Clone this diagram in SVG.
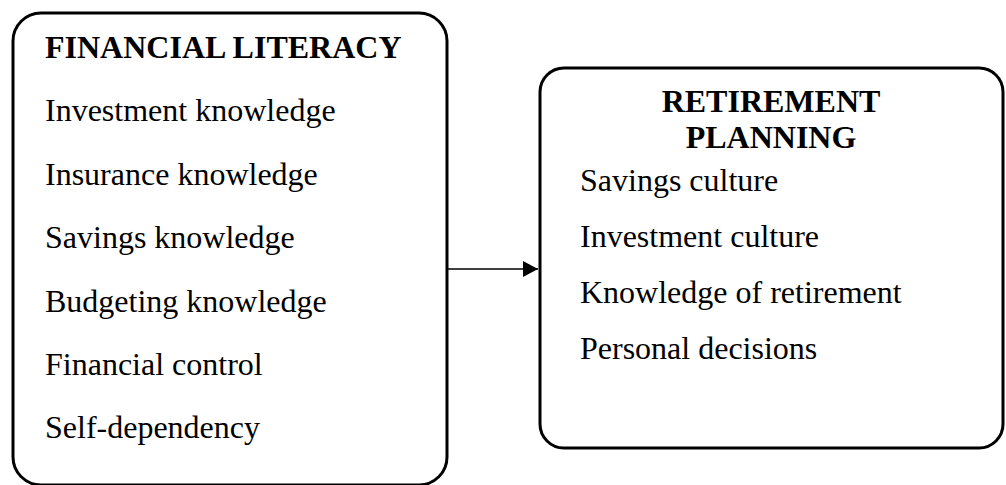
<svg xmlns="http://www.w3.org/2000/svg" width="1006" height="485" viewBox="0 0 1006 485">
  <style>
    .box { fill: #ffffff; stroke: #000000; stroke-width: 3; }
    .title { font-family: "Liberation Serif", "Times New Roman", serif; font-size: 32px; font-weight: bold; fill: #000000; }
    .item { font-family: "Liberation Serif", "Times New Roman", serif; font-size: 32px; fill: #000000; }
    .link { stroke: #000000; stroke-width: 1.5; fill: none; }
  </style>
  <defs>
    <marker id="arrow" viewBox="0 0 15 16" refX="15" refY="8" markerWidth="15" markerHeight="16" markerUnits="userSpaceOnUse" orient="auto">
      <path d="M0,0 L15,8 L0,16 Z" fill="#000000"/>
    </marker>
  </defs>
  <rect width="1006" height="485" fill="#ffffff"/>

  <g id="financial-literacy">
    <rect class="box" x="13" y="13" width="434" height="472" rx="28" ry="28"/>
    <text class="title" x="45" y="58">FINANCIAL LITERACY</text>
    <text class="item" x="45" y="121">Investment knowledge</text>
    <text class="item" x="45" y="185">Insurance knowledge</text>
    <text class="item" x="45" y="248">Savings knowledge</text>
    <text class="item" x="45" y="312">Budgeting knowledge</text>
    <text class="item" x="45" y="375">Financial control</text>
    <text class="item" x="45" y="438">Self-dependency</text>
  </g>

  <g id="retirement-planning">
    <rect class="box" x="540" y="68" width="463" height="380" rx="24" ry="24"/>
    <text class="title" x="771" y="112" text-anchor="middle">RETIREMENT</text>
    <text class="title" x="771" y="148" text-anchor="middle">PLANNING</text>
    <text class="item" x="580" y="191">Savings culture</text>
    <text class="item" x="580" y="247">Investment culture</text>
    <text class="item" x="580" y="303">Knowledge of retirement</text>
    <text class="item" x="580" y="359">Personal decisions</text>
  </g>

  <g id="connectors">
    <line class="link" x1="447" y1="269" x2="538" y2="269" marker-end="url(#arrow)"/>
  </g>
</svg>
